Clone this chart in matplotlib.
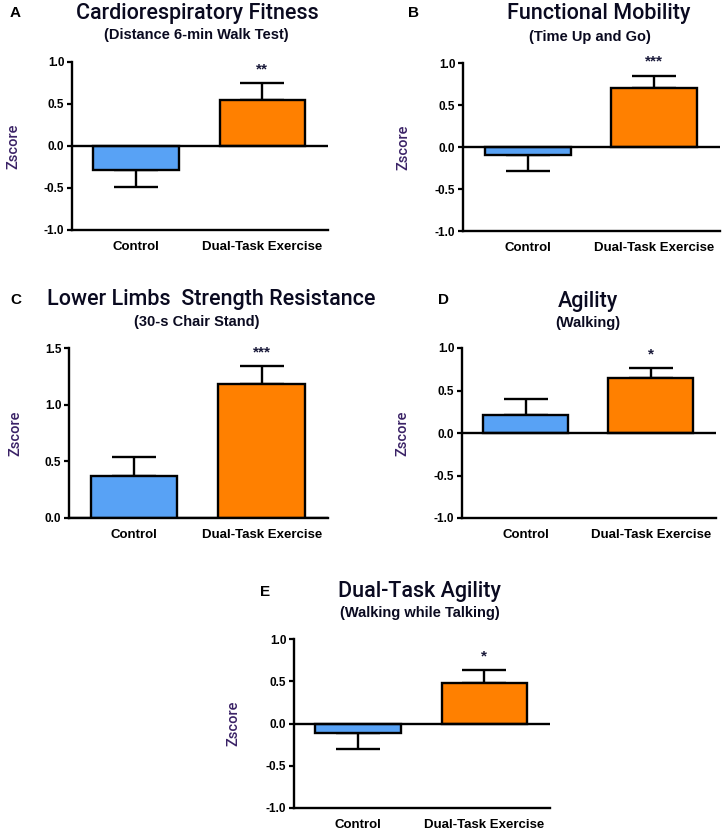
import matplotlib
matplotlib.use("Agg")
import matplotlib.pyplot as plt
import numpy as np

plt.rcParams['font.family'] = ['Liberation Sans', 'DejaVu Sans']

# ---------------- data ----------------
panel_letters = ['A', 'B', 'C', 'D', 'E']
titles = ['Cardiorespiratory Fitness', 'Functional Mobility',
          'Lower Limbs  Strength Resistance', 'Agility', 'Dual-Task Agility']
subtitles = ['(Distance 6-min Walk Test)', '(Time Up and Go)',
             '(30-s Chair Stand)', '(Walking)', '(Walking while Talking)']
groups = ['Control', 'Dual-Task Exercise']
control_means = [-0.29, -0.09, 0.37, 0.21, -0.11]
control_sem = [0.20, 0.19, 0.17, 0.19, 0.19]
dte_means = [0.55, 0.70, 1.18, 0.65, 0.48]
dte_sem = [0.20, 0.15, 0.16, 0.11, 0.15]
stars = ['**', '***', '***', '*', '*']
ylims = [(-1, 1), (-1, 1), (0, 1.5), (-1, 1), (-1, 1)]
yticks = [[-1, -0.5, 0, 0.5, 1], [-1, -0.5, 0, 0.5, 1], [0, 0.5, 1.0, 1.5],
          [-1, -0.5, 0, 0.5, 1], [-1, -0.5, 0, 0.5, 1]]

# ---------------- layout (pixels) ----------------
W, H = 726, 834
boxes = [(72, 328, 62, 230), (463, 720, 63, 231), (69, 328, 348, 518),
         (462, 716, 348, 518), (294, 550, 639, 808)]
letter_pos = [(10, 13), (408, 13), (10, 300), (438, 300), (260, 592)]
title_pos = [(197, 13), (599, 14), (211, 300), (588, 302), (420, 591)]
sub_pos = [(196, 35), (590, 37), (197, 322), (588, 323), (420, 613)]
zlabel_x = [13, 403, 15, 402, 233]

BLUE = '#58a2f5'
ORANGE = '#ff8000'
ZCOL = '#3a2266'

fig = plt.figure(figsize=(W / 100, H / 100), dpi=100)


def fx(x):
    return x / W


def fy(y):
    return 1 - y / H


for i in range(5):
    l, r, t, b = boxes[i]
    ax = fig.add_axes([fx(l), fy(b), (r - l) / W, (b - t) / H])
    x = np.arange(len(groups))
    means = [control_means[i], dte_means[i]]
    sems = [control_sem[i], dte_sem[i]]
    colors = [BLUE, ORANGE]
    for j in range(2):
        m = means[j]
        s = sems[j]
        yerr = [[0], [s]] if m >= 0 else [[s], [0]]
        ax.errorbar([x[j]], [m], yerr=yerr, fmt='none', ecolor='black',
                    elinewidth=1.7, capsize=16, capthick=1.7, zorder=2)
        ax.bar(x[j], m, width=0.68, color=colors[j], edgecolor='black',
               linewidth=1.7, zorder=3)
        top = m + s if m >= 0 else m - s
        if j == 1:
            ax.annotate(stars[i], (x[j], top), xytext=(0, 10),
                        textcoords='offset points', ha='center', va='center',
                        fontsize=11, fontweight='bold', color='#1a1a3a')
    ax.set_xlim(-0.51, 1.52)
    ax.set_ylim(*ylims[i])
    ax.axhline(0, color='black', lw=1.7, zorder=4)
    ax.set_yticks(yticks[i])
    ax.set_yticklabels([f'{v:.1f}' for v in yticks[i]], fontsize=8.5,
                       fontweight='bold')
    ax.set_xticks(x)
    ax.set_xticklabels(groups, fontsize=9.5, fontweight='bold')
    ax.tick_params(axis='x', length=0, pad=8)
    ax.tick_params(axis='y', length=3.5, width=1.6, pad=2, direction='out')
    for sp in ['top', 'right']:
        ax.spines[sp].set_visible(False)
    for sp in ['left', 'bottom']:
        ax.spines[sp].set_linewidth(1.7)
    ax.patch.set_alpha(0)

    lx, ly = letter_pos[i]
    fig.text(fx(lx), fy(ly), panel_letters[i], fontsize=11, fontweight='bold',
             ha='left', va='center')
    tx, ty = title_pos[i]
    fig.text(fx(tx), fy(ty), titles[i], fontsize=15.5, ha='center',
             va='center', color='#0a0a20', family=['Roboto', 'Liberation Sans'],
             fontweight='medium')
    sx, sy = sub_pos[i]
    fig.text(fx(sx), fy(sy), subtitles[i], fontsize=10.5, fontweight='bold',
             ha='center', va='center', color='#0a0a20')
    fig.text(fx(zlabel_x[i]), fy((t + b) / 2), 'Zscore', fontsize=10.5,
             rotation=90, ha='center', va='center', color=ZCOL,
             family=['Roboto', 'Liberation Sans'], fontweight='medium')

fig.savefig('out.png', dpi=100)
